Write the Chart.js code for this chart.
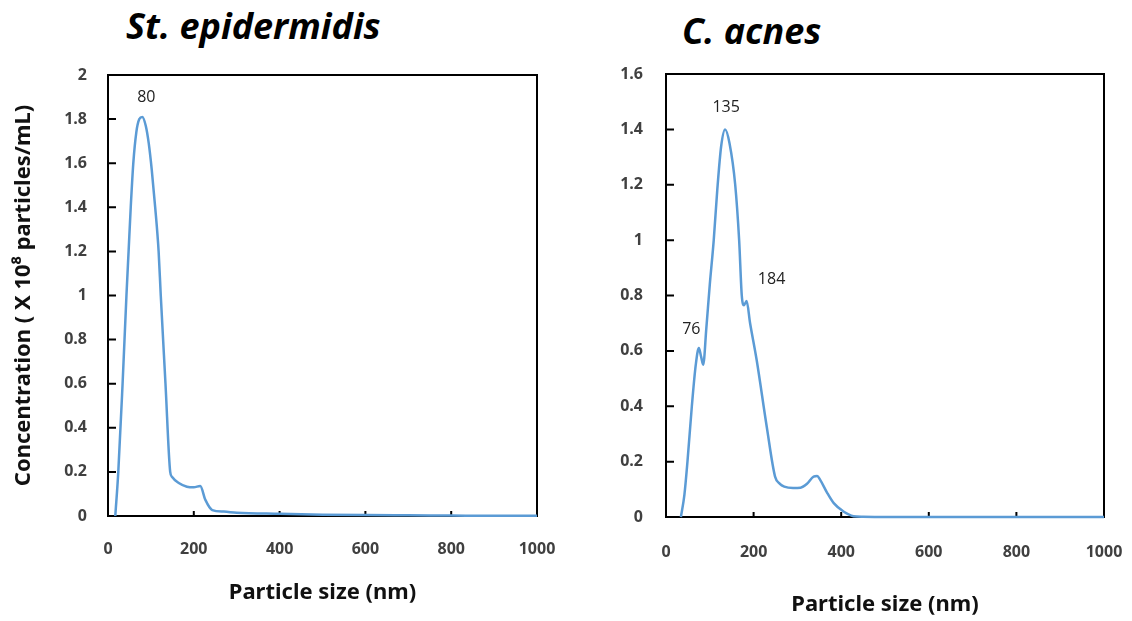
<!DOCTYPE html>
<html>
<head>
<meta charset="utf-8">
<script src="https://cdn.jsdelivr.net/npm/chart.js@4.4.1/dist/chart.umd.min.js"></script>
<style>
  body { margin: 0; background: #fff; width: 1132px; height: 621px; overflow: hidden; position: relative; }
  .title { position: absolute; font: italic bold 36px 'Open Sans', sans-serif; line-height: 1; color: #000; white-space: nowrap; }
  canvas { position: absolute; top: 0; }
</style>
</head>
<body>
<div class="title" style="left:126px; top:8px;">St. epidermidis</div>
<div class="title" style="left:682px; top:13px;">C. acnes</div>
<canvas id="epiChart" width="560" height="621" style="left:0"></canvas>
<canvas id="acnesChart" width="552" height="621" style="left:580px"></canvas>
<script>
// St. epidermidis size distribution
const epiSize = [17, 24, 34, 43, 48, 53, 59, 66, 73, 80, 88, 95, 102, 110, 118, 123, 134, 145, 149, 165, 184, 200, 215, 227, 243, 270, 300, 400, 500, 600, 700, 800, 900, 1000];
const epiConc = [0, 0.2, 0.6, 1.0, 1.2, 1.4, 1.6, 1.74, 1.8, 1.81, 1.77, 1.69, 1.57, 1.4, 1.2, 1.0, 0.6, 0.2, 0.178, 0.15, 0.133, 0.13, 0.136, 0.073, 0.027, 0.02, 0.015, 0.01, 0.006, 0.004, 0.003, 0.002, 0.001, 0.001];
const epiPeakSize = [80];
const epiPeakConc = [1.81];
const epiPeakText = ['80'];

// C. acnes size distribution
const acnesSize = [34, 42, 49, 59, 68, 75, 80, 85, 92, 100, 109, 117, 126, 135, 145, 158, 167, 173, 178, 184, 192, 207, 230, 249, 260, 270, 290, 307, 322, 337, 345, 352, 367, 383, 406, 428, 450, 500, 600, 700, 800, 900, 1000];
const acnesConc = [0, 0.08, 0.2, 0.4, 0.55, 0.61, 0.58, 0.55, 0.68, 0.84, 1.0, 1.18, 1.34, 1.4, 1.35, 1.2, 1.0, 0.8, 0.765, 0.78, 0.7, 0.567, 0.326, 0.146, 0.12, 0.11, 0.105, 0.106, 0.12, 0.146, 0.148, 0.134, 0.09, 0.05, 0.019, 0.003, 0.001, 0, 0, 0, 0, 0, 0];
const acnesPeakSize = [76, 135, 184];
const acnesPeakConc = [0.61, 1.4, 0.78];
const acnesPeakText = ['76', '135', '184'];

const xTicks = [0, 200, 400, 600, 800, 1000];
const epiYTicks = [0, 0.2, 0.4, 0.6, 0.8, 1, 1.2, 1.4, 1.6, 1.8, 2];
const acnesYTicks = [0, 0.2, 0.4, 0.6, 0.8, 1, 1.2, 1.4, 1.6];

const lineBlue = '#5b9bd5';
const tickFont = { family: "'Open Sans', sans-serif", size: 16, weight: 'bold' };
const axisTitleFont = { family: "'Noto Sans', 'Open Sans', sans-serif", size: 22, weight: 'bold' };

// box around the plot area with inward tick marks
const frame = {
    id: 'frame',
    beforeDatasetsDraw(chart) {
        const { ctx, chartArea: a, scales } = chart;
        ctx.save();
        ctx.strokeStyle = '#000';
        ctx.lineWidth = 2;
        ctx.strokeRect(a.left, a.top, a.right - a.left, a.bottom - a.top);
        ctx.beginPath();
        scales.x.ticks.forEach(t => {
            const px = scales.x.getPixelForValue(t.value);
            ctx.moveTo(px, a.bottom);
            ctx.lineTo(px, a.bottom - 5);
        });
        scales.y.ticks.forEach(t => {
            const py = scales.y.getPixelForValue(t.value);
            ctx.moveTo(a.left, py);
            ctx.lineTo(a.left + 8, py);
        });
        ctx.stroke();
        ctx.restore();
    }
};

// peak annotations
const peakLabels = {
    id: 'peakLabels',
    afterDatasetsDraw(chart, args, opts) {
        const { ctx, scales } = chart;
        ctx.save();
        ctx.font = "16px 'Open Sans', sans-serif";
        ctx.fillStyle = '#222';
        ctx.textAlign = 'center';
        ctx.textBaseline = 'middle';
        opts.sizes.forEach((s, i) => {
            const px = scales.x.getPixelForValue(s) + opts.dx[i];
            const py = scales.y.getPixelForValue(opts.concs[i]) + opts.dy[i];
            ctx.fillText(opts.texts[i], px, py);
        });
        ctx.restore();
    }
};

function makeChart(id, sizes, concs, yTicks, peaks, lay) {
    const yMax = yTicks[yTicks.length - 1];
    return new Chart(document.getElementById(id), {
        type: 'line',
        data: {
            datasets: [{
                data: sizes.map((s, i) => ({ x: s, y: concs[i] })),
                borderColor: lineBlue,
                borderWidth: 2.5,
                pointRadius: 0,
                cubicInterpolationMode: 'monotone',
                clip: 4
            }]
        },
        options: {
            responsive: false,
            devicePixelRatio: 1,
            animation: false,
            layout: { padding: { top: lay.top, right: lay.right, left: 0, bottom: 0 } },
            plugins: {
                legend: { display: false },
                tooltip: { enabled: false },
                peakLabels: peaks
            },
            scales: {
                x: {
                    type: 'linear',
                    min: 0,
                    max: 1000,
                    afterBuildTicks: s => { s.ticks = xTicks.map(v => ({ value: v })); },
                    afterFit: s => { s.height = lay.xHeight; s.paddingLeft = 0; s.paddingRight = 0; },
                    grid: { display: false, drawTicks: false },
                    border: { display: false },
                    ticks: { font: tickFont, color: '#404040', padding: lay.xPad, maxRotation: 0, callback: v => String(v) },
                    title: {
                        display: true,
                        text: 'Particle size (nm)',
                        font: axisTitleFont,
                        color: '#111',
                        padding: { top: 0, bottom: lay.xTitlePad }
                    }
                },
                y: {
                    min: 0,
                    max: yMax,
                    afterBuildTicks: s => { s.ticks = yTicks.map(v => ({ value: v })); },
                    afterFit: s => { s.width = lay.yWidth; s.paddingTop = 0; s.paddingBottom = 0; },
                    grid: { display: false, drawTicks: false },
                    border: { display: false },
                    ticks: { font: tickFont, color: '#404040', padding: lay.yPad, callback: v => String(v) },
                    title: {
                        display: lay.yTitle,
                        text: 'Concentration ( X 10\u2078 particles/mL)',
                        font: axisTitleFont,
                        color: '#111',
                        padding: { top: 11, bottom: 0 }
                    }
                }
            }
        },
        plugins: [frame, peakLabels]
    });
}

makeChart('epiChart', epiSize, epiConc, epiYTicks,
    { sizes: epiPeakSize, concs: epiPeakConc, texts: epiPeakText, dx: [4], dy: [-19] },
    { top: 75, right: 23, xHeight: 105, yWidth: 108, xPad: 24, yPad: 21, xTitlePad: 15, yTitle: true });

makeChart('acnesChart', acnesSize, acnesConc, acnesYTicks,
    { sizes: acnesPeakSize, concs: acnesPeakConc, texts: acnesPeakText, dx: [-8, 1, 25], dy: [-19, -22, -22] },
    { top: 74, right: 28, xHeight: 104, yWidth: 86, xPad: 26, yPad: 23, xTitlePad: 3, yTitle: false });
</script>
</body>
</html>
